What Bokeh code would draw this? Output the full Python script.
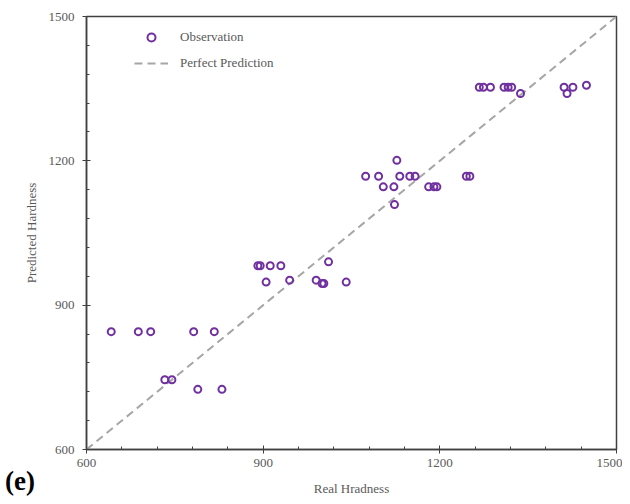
from bokeh.plotting import figure
from bokeh.models import Range1d, SingleIntervalTicker, Legend, LegendItem, Div
from bokeh.layouts import column
from bokeh.embed import file_html
from bokeh.resources import INLINE

real_hardness = [642, 688, 709, 782, 817,
                 733, 745,
                 789, 830,
                 891, 895, 912, 930,
                 905, 945, 990, 1000, 1003, 1011, 1041,
                 1127,
                 1074, 1096, 1132, 1149, 1158, 1245, 1251,
                 1104, 1122, 1181, 1190, 1195,
                 1123,
                 1267, 1274, 1286, 1309, 1316, 1322, 1337,
                 1411, 1416, 1426, 1449]
predicted_hardness = [845, 845, 845, 845, 845,
                      745, 745,
                      725, 725,
                      982, 982, 982, 982,
                      948, 952, 952, 945, 945, 990, 948,
                      1201,
                      1168, 1168, 1168, 1168, 1168, 1168, 1168,
                      1146, 1146, 1146, 1146, 1146,
                      1109,
                      1353, 1353, 1353, 1353, 1353, 1353, 1340,
                      1353, 1340, 1353, 1357]
ideal_x = [600, 1500]
ideal_y = [600, 1500]
axis_min, axis_max = 600, 1500

FONT = "Liberation Serif"
TXT = "#595959"

p = figure(frame_width=530, frame_height=433, output_backend="svg", toolbar_location=None,
           x_range=Range1d(axis_min, axis_max), y_range=Range1d(axis_min, axis_max),
           min_border_left=86, min_border_right=6, min_border_top=16, min_border_bottom=50)
p.xgrid.visible = False
p.ygrid.visible = False
p.outline_line_color = "#404040"
p.outline_line_width = 1.5
p.background_fill_color = "white"

for ax in (p.xaxis[0], p.yaxis[0]):
    ax.ticker = SingleIntervalTicker(interval=300, num_minor_ticks=5)
    ax.axis_line_color = "#404040"
    ax.axis_line_width = 1.5
    ax.major_tick_line_color = "#404040"
    ax.minor_tick_line_color = "#404040"
    ax.major_tick_in = 4
    ax.major_tick_out = 4
    ax.minor_tick_in = 3
    ax.minor_tick_out = 0
    ax.major_label_text_font = FONT
    ax.major_label_text_font_size = "13px"
    ax.major_label_text_color = TXT
    ax.axis_label_text_font = FONT
    ax.axis_label_text_font_size = "13px"
    ax.axis_label_text_font_style = "normal"
    ax.axis_label_text_color = TXT

p.xaxis.axis_label = "Real Hradness"
p.yaxis.axis_label = "Predicted Hardness"
p.xaxis.major_label_standoff = 5
p.xaxis.axis_label_standoff = 11
p.yaxis.major_label_standoff = 8
p.yaxis.axis_label_standoff = 7

ln = p.line(ideal_x, ideal_y, line_color="#A6A6A6", line_width=2, line_dash="8 5")
sc = p.scatter(real_hardness, predicted_hardness, marker="circle", size=7,
               fill_color=None, line_color="#7030A0", line_width=2)

legend = Legend(items=[LegendItem(label="Observation", renderers=[sc]),
                       LegendItem(label="Perfect Prediction", renderers=[ln])],
                location=(48, 376), padding=0, margin=0, spacing=6,
                glyph_width=34, glyph_height=20, label_height=20, label_standoff=12,
                border_line_color=None, background_fill_alpha=0,
                label_text_font=FONT, label_text_font_size="13px", label_text_color=TXT)
p.add_layout(legend)

tag = Div(text='<span style="font-family: \'Liberation Serif\', serif; font-size: 27px; '
               'font-weight: bold; color: black; line-height: 30px;">(e)</span>',
          margin=(-33, 0, 0, 5))

layout = column(p, tag, spacing=0)

open("out.html", "w").write(file_html(layout, INLINE))
